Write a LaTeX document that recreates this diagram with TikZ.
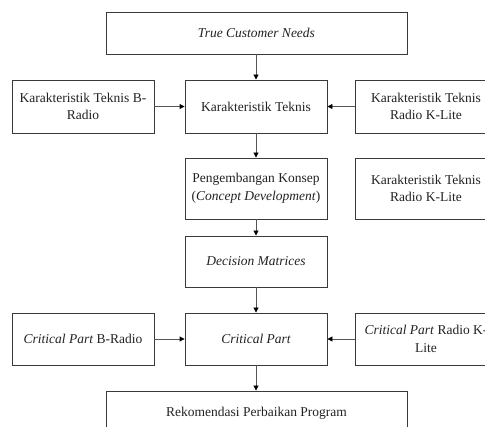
\documentclass[tikz,border=0pt]{standalone}
\usepackage{fontspec}
\setmainfont{Liberation Serif}
\usetikzlibrary{arrows.meta}
\definecolor{boxline}{HTML}{3A3A3A}
\definecolor{conn}{HTML}{555555}
\definecolor{txt}{HTML}{222222}
\begin{document}
\begin{tikzpicture}[x=1pt,y=-1pt,
  box/.style={draw=boxline, line width=0.9pt, text=txt, align=center,
    font=\fontsize{13.5}{17.5}\selectfont, inner sep=0pt},
  conn/.style={draw=conn, line width=0.9pt, -{Triangle[length=5pt,width=5pt,fill=black,color=black]}}]
\useasboundingbox (0,0) rectangle (485,427);
\clip (0,0) rectangle (485,427);
\fill[white] (0,0) rectangle (485,427);
% helper: boxes by corners
\node[box, minimum width=301pt, minimum height=42pt] (tcn) at (256.5,33) {\itshape True Customer Needs};
\node[box, minimum width=142pt, minimum height=53pt] (ktb) at (83,106.5) {Karakteristik Teknis B-\\Radio};
\node[box, minimum width=142pt, minimum height=53pt] (kt) at (256,106.5) {Karakteristik Teknis};
\node[box, minimum width=142pt, minimum height=53pt] (ktk) at (426,106.5) {Karakteristik Teknis\\Radio K-Lite};
\node[box, minimum width=142pt, minimum height=61pt] (pk) at (256,188.5) {Pengembangan Konsep\\(\textit{Concept Development})};
\node[box, minimum width=142pt, minimum height=61pt] (ktk2) at (426,188.5) {Karakteristik Teknis\\Radio K-Lite};
\node[box, minimum width=142pt, minimum height=51pt] (dm) at (256,261.5) {\itshape Decision Matrices};
\node[box, minimum width=142pt, minimum height=52pt] (cpb) at (83,339) {\textit{Critical Part} B-Radio};
\node[box, minimum width=142pt, minimum height=52pt] (cp) at (256,339) {\itshape Critical Part};
\node[box, minimum width=142pt, minimum height=52pt] (cpk) at (426,339) {\textit{Critical Part} Radio K-\\Lite};
\node[box, minimum width=301pt, minimum height=44pt] (rek) at (256.5,413) {Rekomendasi Perbaikan Program};
\draw[conn] (tcn.south -| kt.north) -- (kt.north);
\draw[conn] (ktb) -- (kt);
\draw[conn] (ktk) -- (kt);
\draw[conn] (kt) -- (pk);
\draw[conn] (pk) -- (dm);
\draw[conn] (dm) -- (cp);
\draw[conn] (cpb) -- (cp);
\draw[conn] (cpk) -- (cp);
\draw[conn] (cp.south) -- (rek.north -| cp.south);
\end{tikzpicture}
\end{document}
